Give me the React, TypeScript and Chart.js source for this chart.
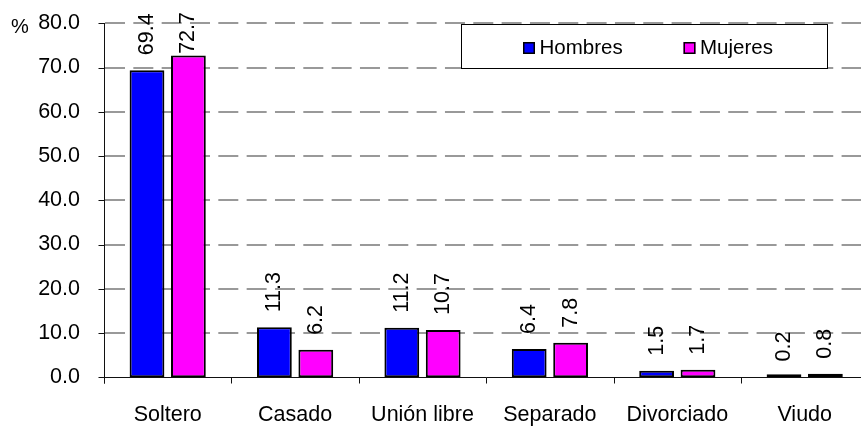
import React, { useEffect, useRef } from 'react';
import { Chart, registerables } from 'chart.js';

Chart.register(...registerables);

const categories = ['Soltero', 'Casado', 'Unión libre', 'Separado', 'Divorciado', 'Viudo'];
const hombres = [69.4, 11.3, 11.2, 6.4, 1.5, 0.2];
const mujeres = [72.7, 6.2, 10.7, 7.8, 1.7, 0.8];
const seriesNames = ['Hombres', 'Mujeres'];
const seriesColors = ['#0000FF', '#FF00FF'];
const yMin = 0;
const yMax = 80;
const yStep = 10;
const yUnit = '%';

const FONT = '"Liberation Sans", Arial, Helvetica, sans-serif';
const AXIS_FONT_SIZE = 21.5;
const LEGEND_FONT_SIZE = 20.5;

const decorPlugin = {
  id: 'decor',
  beforeDatasetsDraw(chart: any) {
    const { ctx, chartArea: a, scales } = chart;
    const y = scales.y;
    ctx.save();
    ctx.strokeStyle = '#999999';
    ctx.lineWidth = 2;
    ctx.setLineDash([20, 8.33]);
    y.ticks.forEach((t: any) => {
      if (t.value === 0) return;
      const py = Math.round(y.getPixelForValue(t.value));
      ctx.beginPath();
      ctx.moveTo(a.left + 1, py);
      ctx.lineTo(a.right, py);
      ctx.stroke();
    });
    ctx.restore();
  },
  afterDatasetsDraw(chart: any) {
    const { ctx, chartArea: a, scales } = chart;
    const y = scales.y;
    const left = Math.round(a.left) + 0.5;
    const bottom = Math.round(a.bottom) + 0.5;
    ctx.save();
    ctx.strokeStyle = '#111111';
    ctx.lineWidth = 1;
    ctx.setLineDash([]);
    ctx.beginPath();
    ctx.moveTo(left, Math.round(a.top));
    ctx.lineTo(left, bottom + 6);
    ctx.stroke();
    ctx.beginPath();
    ctx.moveTo(left, bottom);
    ctx.lineTo(a.right, bottom);
    ctx.stroke();
    y.ticks.forEach((t: any) => {
      const py = Math.round(y.getPixelForValue(t.value)) + 0.5;
      ctx.beginPath();
      ctx.moveTo(left - 6, py);
      ctx.lineTo(left, py);
      ctx.stroke();
    });
    const n = categories.length;
    const w = (a.right - a.left) / n;
    for (let i = 0; i <= n; i++) {
      const px = Math.round(a.left + i * w) + 0.5;
      ctx.beginPath();
      ctx.moveTo(px, bottom);
      ctx.lineTo(px, bottom + 6);
      ctx.stroke();
    }
    ctx.fillStyle = '#000000';
    ctx.font = `${AXIS_FONT_SIZE}px ${FONT}`;
    chart.data.datasets.forEach((ds: any, di: number) => {
      const meta = chart.getDatasetMeta(di);
      meta.data.forEach((bar: any, i: number) => {
        const text = Number(ds.data[i]).toFixed(1);
        const tw = ctx.measureText(text).width;
        const barTop = y.getPixelForValue(ds.data[i]);
        const start = Math.max(barTop - 15, 12 + tw);
        ctx.save();
        ctx.translate(bar.x, start);
        ctx.rotate(-Math.PI / 2);
        ctx.textAlign = 'left';
        ctx.textBaseline = 'middle';
        ctx.fillText(text, 0, 0);
        ctx.restore();
      });
    });
    ctx.font = `20px ${FONT}`;
    ctx.textAlign = 'left';
    ctx.textBaseline = 'alphabetic';
    ctx.fillText(yUnit, 11, 33);
    ctx.restore();
  },
  afterDraw(chart: any) {
    const { ctx } = chart;
    ctx.save();
    ctx.fillStyle = '#FFFFFF';
    ctx.fillRect(461, 24, 367, 45);
    ctx.strokeStyle = '#000000';
    ctx.lineWidth = 1;
    ctx.strokeRect(461.5, 24.5, 366, 44);
    const items = [
      { sx: 523, tx: 539.5 },
      { sx: 683.5, tx: 700 },
    ];
    ctx.font = `${LEGEND_FONT_SIZE}px ${FONT}`;
    ctx.textBaseline = 'middle';
    ctx.textAlign = 'left';
    items.forEach((it, i) => {
      ctx.fillStyle = seriesColors[i];
      ctx.fillRect(it.sx, 42, 12, 12);
      ctx.strokeStyle = '#000000';
      ctx.lineWidth = 1.5;
      ctx.strokeRect(it.sx + 0.75, 42.75, 10.5, 10.5);
      ctx.fillStyle = '#000000';
      ctx.fillText(seriesNames[i], it.tx, 48);
    });
    ctx.restore();
  },
};

export default function App() {
  const canvasRef = useRef<HTMLCanvasElement | null>(null);

  useEffect(() => {
    const canvas = canvasRef.current;
    if (!canvas) return;
    const chart = new Chart(canvas, {
      type: 'bar',
      data: {
        labels: categories,
        datasets: [
          {
            label: seriesNames[0],
            data: hombres,
            backgroundColor: seriesColors[0],
            borderColor: '#000000',
            borderWidth: 2,
            borderSkipped: false,
            categoryPercentage: 0.65,
            barPercentage: 0.84,
            minBarLength: 3,
          },
          {
            label: seriesNames[1],
            data: mujeres,
            backgroundColor: seriesColors[1],
            borderColor: '#000000',
            borderWidth: 2,
            borderSkipped: false,
            categoryPercentage: 0.65,
            barPercentage: 0.84,
            minBarLength: 3,
          },
        ],
      },
      options: {
        responsive: false,
        animation: false,
        devicePixelRatio: 1,
        layout: { padding: { left: 0, top: 23.3, right: 11.6, bottom: 0 } },
        plugins: {
          legend: { display: false },
          tooltip: { enabled: false },
          title: { display: false },
        },
        scales: {
          x: {
            type: 'category',
            offset: true,
            grid: { display: false, drawTicks: false },
            border: { display: false },
            ticks: {
              color: '#000000',
              font: { family: FONT, size: AXIS_FONT_SIZE },
              padding: 24.5,
              maxRotation: 0,
              autoSkip: false,
            },
            afterFit: (scale: any) => {
              scale.height = 49.7;
              scale.paddingLeft = 0;
              scale.paddingRight = 0;
            },
          },
          y: {
            min: yMin,
            max: yMax,
            grid: { display: false, drawTicks: false },
            border: { display: false },
            ticks: {
              stepSize: yStep,
              color: '#000000',
              font: { family: FONT, size: AXIS_FONT_SIZE },
              padding: 24,
              callback: (v: any) => Number(v).toFixed(1),
            },
            afterFit: (scale: any) => {
              scale.width = 104;
              scale.paddingTop = 0;
              scale.paddingBottom = 0;
            },
          },
        },
      },
      plugins: [decorPlugin],
    });
    return () => chart.destroy();
  }, []);

  return (
    <div
      style={{
        position: 'absolute',
        left: 0,
        top: 0,
        width: 861,
        height: 427,
        overflow: 'hidden',
        background: '#FFFFFF',
      }}
    >
      <canvas ref={canvasRef} width={880} height={427} style={{ display: 'block', width: 880, height: 427 }} />
    </div>
  );
}
